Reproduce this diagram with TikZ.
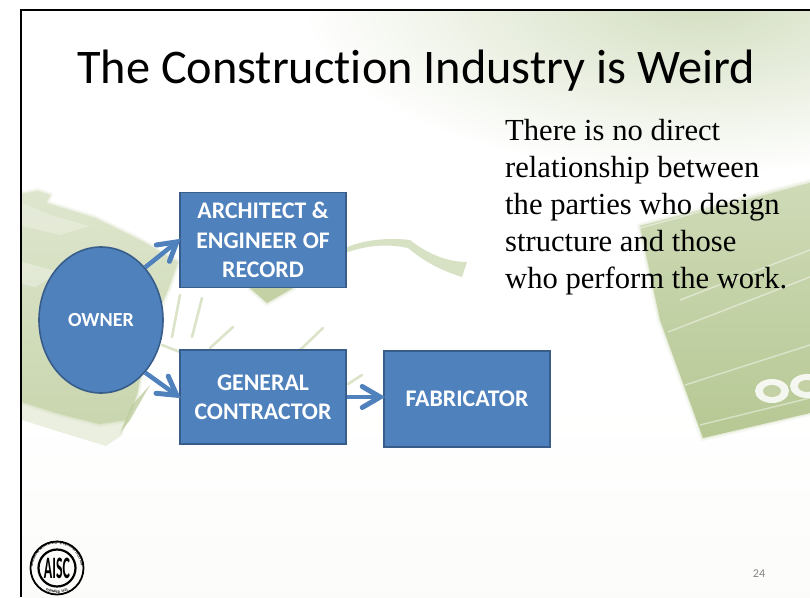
\documentclass[tikz,border=0pt]{standalone}
\usepackage{fontspec}
\setmainfont[Ligatures=NoCommon]{Carlito}
\newfontfamily\serifbody{Liberation Serif}
\usetikzlibrary{shapes.geometric,arrows.meta,decorations.text}
\definecolor{boxblue}{HTML}{4F81BD}
\definecolor{boxedge}{HTML}{385D8A}
\definecolor{leaf}{HTML}{C3D1A5}
\definecolor{leafdark}{HTML}{B5C792}
\definecolor{wash}{HTML}{D3DEC0}
\pgfdeclarearrow{
  name=OpenBarb,
  setup code={
    \pgfarrowssettipend{3pt}
    \pgfarrowssetlineend{-1pt}
    \pgfarrowssetbackend{-20pt}
    \pgfarrowssetvisualbackend{-1pt}
    \pgfarrowshullpoint{3pt}{0pt}
    \pgfarrowshullpoint{-20pt}{12pt}
    \pgfarrowshullpoint{-20pt}{-12pt}
  },
  drawing code={
    \pgfsetdash{}{0pt}
    \pgfsetroundcap
    \pgfsetmiterjoin
    \pgfsetlinewidth{5pt}
    \pgfpathmoveto{\pgfqpoint{-18pt}{10.5pt}}
    \pgfpathlineto{\pgfqpoint{0pt}{0pt}}
    \pgfpathlineto{\pgfqpoint{-18pt}{-10.5pt}}
    \pgfusepathqstroke
  }
}
\tikzset{
  x=1pt,y=-1pt,
  boxnode/.style={draw=boxedge,line width=1.6pt,fill=boxblue,text=white,minimum width=166pt,align=center,
    font=\fontsize{23.8}{29.3}\selectfont\bfseries,inner sep=0pt},
  arr/.style={draw=boxblue,line width=4.5pt,line cap=butt,-OpenBarb},
  mark line/.style={draw=leaf,line width=2.6pt,opacity=.6,line cap=round},
  streak/.style={draw=white,opacity=.45,line width=1.4pt},
  soft/.style={preaction={draw=leaf,line width=6pt,opacity=.14,line join=round},preaction={draw=leaf,line width=2.5pt,opacity=.25,line join=round}},
}
\begin{document}
\begin{tikzpicture}
\useasboundingbox (0,0) rectangle (810,597);
\fill[white] (0,0) rectangle (810,597);
\begin{scope}
\clip (21,11) rectangle (810,597);
% washes
\shade[inner color=wash,outer color=white,draw=none] (700,0) ellipse [x radius=400,y radius=175];
\shade[top color=white,bottom color=white!94!leaf,draw=none] (21,400) rectangle (810,597);
% left blob
\fill[leaf!35!white] (22,400) -- (137,395) -- (122,435) -- (106,446) -- (60,432) -- (22,420) -- cycle;
\shade[soft,top color=leaf!55!white,bottom color=leaf!90!white] (22,194) -- (38,191) -- (50,195) -- (46,203) -- (95,218) -- (140,240) -- (178,262) -- (168,290) -- (150,330) -- (137,395) -- (126,420) -- (100,424) -- (60,414) -- (22,402) -- cycle;
\fill[white,opacity=.3] (22,262) -- (60,272) -- (35,287) -- (22,284) -- cycle;
\fill[white,opacity=.25] (22,203) -- (50,215) -- (90,226) -- (60,235) -- (22,226) -- cycle;
\fill[leafdark,opacity=.7] (150,385) -- (132,405) -- (120,433) -- (130,420) -- cycle;
% hand marks
\fill[soft,leaf] (250,288) -- (267,303) -- (293,288) -- cycle;
\fill[leaf,opacity=.65] (345,248) .. controls (360,241) and (385,237) .. (410,240) .. controls (425,252) and (445,262) .. (467,262) -- (462,277) .. controls (440,270) and (425,262) .. (408,248) .. controls (385,243) and (365,246) .. (345,253) -- cycle;
\draw[mark line] (180,295) -- (172,337);
\draw[mark line] (202,298) -- (192,337);
\draw[mark line] (233,327) -- (210,348);
\draw[mark line] (323,328) -- (300,350);
\draw[mark line] (162,345) -- (180,352);
\draw[mark line] (348,384) -- (362,375);
% right block
\shade[soft,top color=leaf!80!white,bottom color=leafdark!90!leaf] (640,226) -- (810,182) -- (810,413) -- (703,438) -- (660,320) -- cycle;
\draw[streak] (640,228) -- (810,182);
\draw[streak] (680,300) -- (810,250);
\draw[streak] (668,332) -- (810,277);
\draw[streak] (685,385) -- (810,345);
\draw[streak] (700,425) -- (810,398);
\fill[white,opacity=.85] (772,391) ellipse [x radius=17,y radius=12];
\fill[white,opacity=.85] (807,386) ellipse [x radius=17,y radius=12];
\fill[leaf] (772,391) ellipse [x radius=9,y radius=6];
\fill[leaf] (807,386) ellipse [x radius=9,y radius=6];
\end{scope}
% frame
\draw[black,line width=2.4pt] (810,10) -- (21,10) -- (21,597);
% title
\node[anchor=base west,inner sep=0pt,font=\fontsize{48.3}{52}\selectfont] (title) at (77,83) {The Construction Industry is Weird};
% body
\node[anchor=north west,inner sep=0pt,align=left,font=\serifbody\fontsize{30.6}{37}\selectfont] (body) at (505,119)
  {There is no direct\\relationship between\\the parties who design\\structure and those\\who perform the work.};
% diagram
\node[draw=boxedge,line width=1.6pt,fill=boxblue,text=white,ellipse,minimum width=124pt,minimum height=146pt,inner sep=0pt,font=\fontsize{20}{24}\selectfont\bfseries] (owner) at (101,320) {OWNER};
\node[boxnode,minimum height=95pt] (arch) at (263,240) {ARCHITECT \&\\ENGINEER OF\\RECORD};
\node[boxnode,minimum height=94pt] (gc) at (263,397) {GENERAL\\CONTRACTOR};
\node[boxnode,minimum height=96pt] (fab) at (467,399) {FABRICATOR};
\draw[arr] (owner.50) -- (arch.west);
\draw[arr] (owner.-50) -- (gc.west);
\draw[arr] (gc.east) -- (gc.east -| fab.west);
% logo
\node[circle,draw=black,line width=1.8pt,minimum size=53pt,inner sep=0pt] (logo) at (57,568) {};
\node[circle,draw=black,line width=2.2pt,minimum size=37pt,inner sep=0pt,font=\fontsize{24}{24}\selectfont\bfseries] (logoin) at (57,568) {\scalebox{.58}[1.3]{AISC}};
\path[decorate,decoration={text along path,text align=center,text={|\fontsize{3.6}{4}\selectfont\bfseries|AMERICAN INSTITUTE OF STEEL CONSTRUCTION}}] (34.4,576.2) arc[start angle=160,end angle=380,radius=24];
\path[decorate,decoration={text along path,text align=center,text={|\fontsize{3.6}{4}\selectfont\bfseries|FOUNDED 1921}}] (39.3,585.7) arc[start angle=135,end angle=45,radius=25];
% page number
\node[anchor=center,inner sep=0pt,text=black!48,font=\fontsize{12}{14}\selectfont] (pagenum) at (759,574) {24};
\end{tikzpicture}
\end{document}
